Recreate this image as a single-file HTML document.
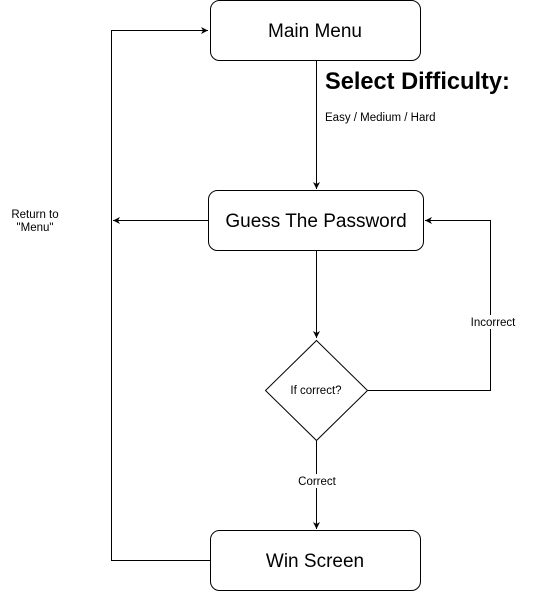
<!DOCTYPE html>
<html><head><style>body{margin:0;background:#fff}</style></head><body>
<svg width="551" height="591" xmlns="http://www.w3.org/2000/svg" font-family="Liberation Sans, Arial, sans-serif">
<defs><marker id="a" markerWidth="8" markerHeight="8" refX="7" refY="4" orient="auto" markerUnits="userSpaceOnUse"><path d="M0,0.5 L7,4 L0,7.5 L2,4 Z" fill="#000"/></marker></defs>
<g fill="#fff" stroke="#000" stroke-width="1">
<rect x="210.5" y="0.5" width="210" height="60" rx="9"/>
<rect x="208.5" y="190.5" width="215" height="60" rx="9"/>
<rect x="210.5" y="530.5" width="210" height="60" rx="9"/>
<path d="M316.5,340.5 L367.5,390.5 L316.5,440.5 L265.5,390.5 Z"/>
</g>
<g fill="none" stroke="#000" stroke-width="1">
<path d="M316.5,61 V189" marker-end="url(#a)"/>
<path d="M210,560.5 H111.5 V30.5 H208" marker-end="url(#a)"/>
<path d="M208,220.5 H113" marker-end="url(#a)"/>
<path d="M316.5,251 V338" marker-end="url(#a)"/>
<path d="M368,390.5 H490.5 V220.5 H425" marker-end="url(#a)"/>
<path d="M316.5,441 V529" marker-end="url(#a)"/>
</g>
<g font-size="19" text-anchor="middle" fill="#000">
<text x="315" y="37">Main Menu</text>
<text x="316" y="227">Guess The Password</text>
<text x="315" y="567">Win Screen</text>
</g>
<text x="325" y="89" font-size="23.6" font-weight="bold">Select Difficulty:</text>
<g font-size="11.5" fill="#000">
<text x="325" y="121">Easy / Medium / Hard</text>
<text x="316" y="394" text-anchor="middle">If correct?</text>
<rect x="294" y="474" width="46" height="14" fill="#fff"/>
<text x="317" y="485" text-anchor="middle">Correct</text>
<rect x="469" y="315" width="48" height="14" fill="#fff"/>
<text x="493" y="326" text-anchor="middle">Incorrect</text>
<text x="35" y="218" text-anchor="middle">Return to</text>
<text x="35" y="231" text-anchor="middle">"Menu"</text>
</g>
</svg>
</body></html>
